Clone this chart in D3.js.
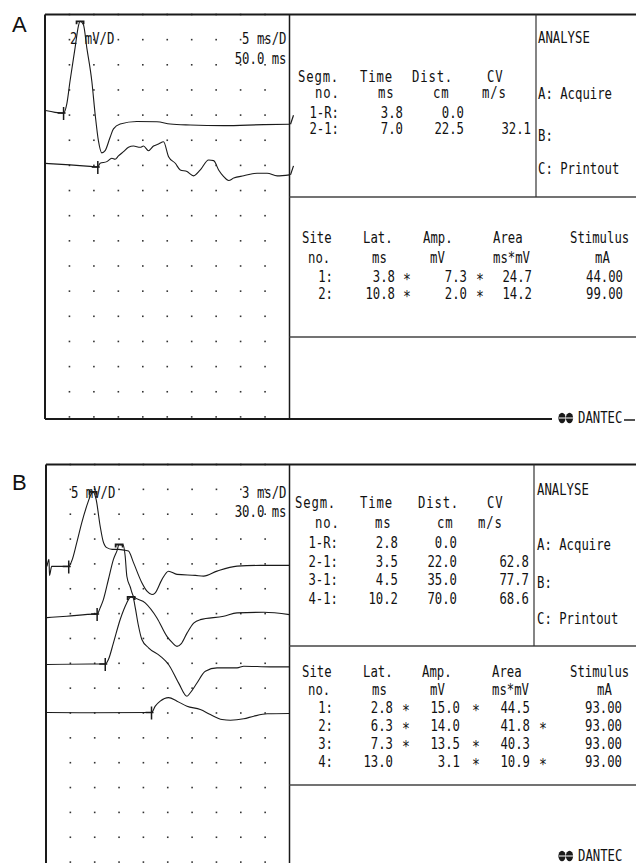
<!DOCTYPE html>
<html>
<head>
<meta charset="utf-8">
<script src="https://cdnjs.cloudflare.com/ajax/libs/d3/7.8.5/d3.min.js"></script>
<style>
  body { margin: 0; background: #fff; }
  svg text { font-family: "DejaVu Sans Mono", monospace; font-size: 15px; fill: #111; }
  svg text.letter { font-family: "Liberation Sans", Arial, sans-serif; font-size: 22px; }
  svg text.star { font-size: 16px; }
</style>
</head>
<body>
<svg width="636" height="863"></svg>
<script>
// ---- traces: [time ms, amplitude mV] ----
const traceA1 = [[0.1,0.2],[2.05,0.06],[3.8,0],[4.45,0.71],[5.12,2.55],[6.15,5.19],[6.82,6.9],[7.17,7.3],
  [7.85,7.04],[8.55,5.19],[9.57,2.55],[10.25,-0.08],[10.92,-2.19],[11.62,-3.16],[12.3,-2.98],[13.32,-1.92],
  [14.0,-1.26],[15.37,-0.87],[18.79,-0.67],[22.89,-0.69],[25.61,-0.87],[29.71,-0.95],[36.54,-1.0],[44.73,-0.92],[50,-0.89]];
const traceA2 = [[0.1,0.28],[5.12,0.16],[9.22,0.04],[10.8,0],[11.27,0.29],[12.64,0.42],[13.67,0.69],[14.34,0.61],
  [15.02,0.87],[16.04,1.21],[17.07,1.56],[18.09,1.66],[19.47,1.56],[20.14,1.66],[21.17,1.29],[22.19,1.66],
  [23.22,1.82],[24.24,2.0],[25.27,0.81],[26.64,0.29],[27.66,-0.24],[29.04,-0.37],[30.39,-0.71],[31.76,-0.24],
  [33.46,0.55],[34.49,0.5],[35.51,-0.24],[36.54,-0.77],[37.56,-1.08],[38.59,-0.89],[40.64,-0.71],[43.38,-0.5],
  [45.43,-0.5],[47.48,-0.71],[50,-0.63]];
const traceB1 = [[0.12,0],[0.37,1.41],[0.43,-1.81],[0.7,0],[2.8,0],[3.17,1.07],[3.79,4.78],[4.41,8.81],[5.02,12.16],
  [5.56,14.52],[5.8,15.0],[6.17,13.51],[6.67,8.13],[7.04,5.04],[7.49,3.77],[8.15,3.43],[8.93,3.43],[9.75,3.23],
  [10.16,3.08],[10.78,0.75],[11.81,-3.28],[12.47,-5.04],[13.05,-5.65],[13.46,-5.31],[14.28,-2.66],[15.1,-0.97],
  [16.14,-1.61],[18.4,-1.81],[19.42,-1.95],[21.07,-0.95],[23.54,0.06],[26.42,0.2],[30,0.2]];
const traceB2 = [[0.12,-0.71],[2.56,-0.44],[6.05,0],[6.3,0],[6.67,1.25],[7.07,2.92],[7.69,6.96],[8.31,11.01],
  [8.73,12.68],[9.01,14.0],[9.51,13.9],[9.75,11.75],[9.96,7.62],[10.37,5.5],[10.78,3.59],[12.22,2.26],[13.67,-0.77],
  [14.9,-4.48],[15.56,-5.75],[16.14,-6.5],[16.67,-5.95],[17.37,-3.83],[18.19,-1.81],[19.01,-1.11],[21.89,-0.44],
  [23.54,0.24],[26.83,0.36],[30,-0.1]];
const traceB3 = [[0.12,-0.1],[5.43,0],[7.3,0],[7.69,0.91],[8.31,4.27],[9.14,8.97],[9.96,12.35],[10.25,13.21],
  [10.49,13.5],[10.74,13.3],[10.99,11.39],[11.36,7.96],[11.81,4.94],[12.63,3.27],[14.07,1.61],[15.1,-0.1],
  [16.33,-3.79],[17.37,-6.49],[17.78,-5.78],[18.6,-3.81],[19.63,-1.45],[21.07,-0.77],[23.54,-0.77],[24.36,-0.44],
  [27.65,-0.56],[30,-0.56]];
const traceB4 = [[0.12,0],[5.43,-0.06],[13.0,0],[13.46,1.27],[14.07,2.28],[15.1,3.0],[16.14,2.28],[17.37,1.27],
  [19.01,0.6],[20.25,-0.4],[21.69,-1.41],[22.72,-1.55],[24.36,-1.27],[25.6,-0.74],[27.25,-0.26],[30,-0.2]];

// ---- table texts ----
const segHead1 = ['Segm.', 'Time', 'Dist.', 'CV'];
const segHead2 = ['no.', 'ms', 'cm', 'm/s'];
const siteHead1 = ['Site', 'Lat.', 'Amp.', 'Area', 'Stimulus'];
const siteHead2 = ['no.', 'ms', 'mV', 'ms*mV', 'mA'];
const menuItems = ['ANALYSE', 'A: Acquire', 'B:', 'C: Printout'];

// panel A values
const segA = ['1-R:', '2-1:'];
const segTimeA = [3.8, 7.0];
const segDistA = [0.0, 22.5];
const segCvA = [null, 32.1];
const siteA = ['1:', '2:'];
const latA = [3.8, 10.8];
const latFlagA = [1, 1];
const ampA = [7.3, 2.0];
const ampFlagA = [1, 1];
const areaA = [24.7, 14.2];
const areaFlagA = [0, 0];
const stimA = [44, 99];

// panel B values
const segB = ['1-R:', '2-1:', '3-1:', '4-1:'];
const segTimeB = [2.8, 3.5, 4.5, 10.2];
const segDistB = [0.0, 22.0, 35.0, 70.0];
const segCvB = [null, 62.8, 77.7, 68.6];
const siteB = ['1:', '2:', '3:', '4:'];
const latB = [2.8, 6.3, 7.3, 13.0];
const latFlagB = [1, 1, 1, 0];
const ampB = [15.0, 14.0, 13.5, 3.1];
const ampFlagB = [1, 0, 1, 1];
const areaB = [44.5, 41.8, 40.3, 10.9];
const areaFlagB = [0, 1, 0, 1];
const stimB = [93, 93, 93, 93];

const fmt1 = d3.format('.1f');
const fmt2 = d3.format('.2f');
const svg = d3.select('svg');
const ink = '#1a1a1a';

// condensed printer-like text
function txt(g, x, y, s, anchor) {
  return g.append('text')
    .attr('text-anchor', anchor || 'start')
    .attr('transform', `translate(${x},${y}) scale(0.82,1)`)
    .text(s);
}

function rule(g, x1, y1, x2, y2, w, c) {
  g.append('line')
    .attr('x1', x1).attr('y1', y1).attr('x2', x2).attr('y2', y2)
    .attr('stroke', c || ink).attr('stroke-width', w || 1);
}

function logo(g, x, y) {
  g.append('ellipse').attr('cx', x + 4).attr('cy', y - 5).attr('rx', 3.6).attr('ry', 5.2).attr('fill', ink);
  g.append('ellipse').attr('cx', x + 11.5).attr('cy', y - 5).attr('rx', 3.6).attr('ry', 5.2).attr('fill', ink);
  rule(g, x + 1, y - 5, x + 15, y - 5, 1, '#fff');
  txt(g, x + 20, y, 'DANTEC');
}

function drawPanel(p) {
  const g = svg.append('g');
  const gx = d3.scaleLinear().domain([0, 10]).range([p.left, p.waveRight]);
  const gy = d3.scaleLinear().domain([0, 16]).range([p.top, p.top + 16 * p.rowH]);
  const x = d3.scaleLinear().domain([0, p.msPerDiv * 10]).range([p.left, p.waveRight]);

  // panel letter
  g.append('text').attr('class', 'letter').attr('x', 12).attr('y', p.top + p.letterDy).text(p.letter);

  // dot grid
  g.selectAll('rect.dot')
    .data(d3.cross(d3.range(1, 10), d3.range(0, 17)))
    .join('rect').attr('class', 'dot')
    .attr('x', d => gx(d[0]) - 0.8).attr('y', d => gy(d[1]) - 0.8)
    .attr('width', 1.6).attr('height', 1.6).attr('fill', '#333');

  // frame
  rule(g, p.left, p.top, 636, p.top, 2);
  rule(g, p.left, p.top, p.left, p.bottom, 2);
  rule(g, p.waveRight, p.top, p.waveRight, p.bottom, 1.5);
  rule(g, p.waveRight, p.line1, 636, p.line1, 1.5, '#444');
  rule(g, p.waveRight, p.line2, 636, p.line2, 1.5, '#444');
  rule(g, p.menuLineX, p.top, p.menuLineX, p.line1, 1.2, '#333');
  if (p.bottomY) {
    rule(g, p.left, p.bottomY, 552, p.bottomY, 2);
    rule(g, 624, p.bottomY + 1, 635, p.bottomY + 1, 1.5);
  }
  logo(g, 558, p.logoY);

  // sweep captions
  txt(g, p.left + 25, p.top + p.capY[0], `${p.mvPerDiv} mV/D`);
  txt(g, p.waveRight - 3, p.top + p.capY[0], `${p.msPerDiv} ms/D`, 'end');
  txt(g, p.waveRight - 3, p.top + p.capY[1], `${fmt1(p.msPerDiv * 10)} ms`, 'end');

  // traces
  p.traces.forEach((t, i) => {
    const base = gy(t.base);
    const y = d3.scaleLinear().domain([0, p.mvPerDiv]).range([base, base - p.rowH]);
    const line = d3.line().x(d => x(d[0])).y(d => y(d[1])).curve(d3.curveMonotoneX);
    g.append('path').datum(t.data).attr('d', line)
      .attr('fill', 'none').attr('stroke', ink).attr('stroke-width', 1.1).attr('stroke-linejoin', 'round');
    // onset cursor at latency
    const ox = x(p.lat[i]);
    g.append('path').attr('d', `M${ox},${base - 6}V${base + 7}M${ox - 6},${base}H${ox + 2}`)
      .attr('stroke', ink).attr('stroke-width', 1.5).attr('fill', 'none');
    // peak cursor
    if (t.peak) {
      const pk = t.data[d3.maxIndex(t.data, d => d[1])];
      const px = x(pk[0]), py = y(pk[1]);
      g.append('path').attr('d', `M${px - 3.5},${py + 3}V${py}H${px + 3.5}V${py + 3}`)
        .attr('stroke', ink).attr('stroke-width', 1.8).attr('fill', 'none');
    }
    // end tick
    if (p.endTick) {
      const last = t.data[t.data.length - 1];
      const ey = y(last[1]);
      rule(g, p.waveRight + 1, ey, p.waveRight + 4, ey - 9, 1.2);
    }
  });

  // segment table
  segHead1.forEach((s, j) => txt(g, p.segHeadX1[j], p.segHeadY[0], s).attr('letter-spacing', 1));
  segHead2.forEach((s, j) => txt(g, p.segHeadX2[j], p.segHeadY[1], s).attr('letter-spacing', 1));
  p.seg.forEach((s, i) => {
    const yy = p.segRowY0 + i * p.segRowDy;
    txt(g, p.segColR[0], yy, s, 'end');
    txt(g, p.segColR[1], yy, fmt1(p.segTime[i]), 'end');
    txt(g, p.segColR[2], yy, fmt1(p.segDist[i]), 'end');
    if (p.segCv[i] != null) txt(g, p.segColR[3], yy, fmt1(p.segCv[i]), 'end');
  });

  // menu
  menuItems.forEach((s, j) => txt(g, p.menuX, p.menuY[j], s));

  // site table
  siteHead1.forEach((s, j) => txt(g, p.siteHeadX1[j], p.siteHeadY[0], s));
  siteHead2.forEach((s, j) => txt(g, p.siteHeadX2[j], p.siteHeadY[1], s));
  p.site.forEach((s, i) => {
    const yy = p.siteRowY0 + i * p.siteRowDy;
    txt(g, p.siteColR[0], yy, s, 'end');
    txt(g, p.siteColR[1], yy, fmt1(p.lat[i]), 'end');
    txt(g, p.siteColR[2], yy, fmt1(p.amp[i]), 'end');
    txt(g, p.siteColR[3], yy, fmt1(p.area[i]), 'end');
    txt(g, p.siteColR[4], yy, fmt2(p.stim[i]), 'end');
    [p.latFlag[i], p.ampFlag[i], p.areaFlag[i]].forEach((f, k) => {
      if (f) txt(g, p.starX[k], yy + 3, '*', 'middle').attr('class', 'star');
    });
  });
}

// panel A
drawPanel({
  letter: 'A', letterDy: 17,
  left: 45, top: 14.5, rowH: 25.15, waveRight: 289.5, bottom: 419,
  bottomY: 419, logoY: 423, line1: 197, line2: 337, menuLineX: 536,
  msPerDiv: 5, mvPerDiv: 2, capY: [29, 49], endTick: true,
  traces: [{ data: traceA1, base: 3.92, peak: true }, { data: traceA2, base: 6.06, peak: false }],
  seg: segA, segTime: segTimeA, segDist: segDistA, segCv: segCvA,
  segHeadX1: [298, 360, 412, 487], segHeadX2: [315, 378, 433, 482], segHeadY: [81.5, 97.5],
  segRowY0: 118, segRowDy: 16, segColR: [339, 403, 464, 531],
  menuX: 538, menuY: [43, 99, 141, 174],
  site: siteA, lat: latA, latFlag: latFlagA, amp: ampA, ampFlag: ampFlagA,
  area: areaA, areaFlag: areaFlagA, stim: stimA,
  siteHeadX1: [302, 363, 423, 493, 570], siteHeadX2: [308, 372, 430, 493, 595], siteHeadY: [243, 263],
  siteRowY0: 282, siteRowDy: 17, siteColR: [333, 395, 467, 532, 623], starX: [407, 480, 545]
});

// panel B
drawPanel({
  letter: 'B', letterDy: 25,
  left: 46, top: 464.5, rowH: 24.85, waveRight: 289.5, bottom: 863,
  bottomY: null, logoY: 861, line1: 646, line2: 785, menuLineX: 534,
  msPerDiv: 3, mvPerDiv: 5, capY: [33, 52], endTick: false,
  traces: [{ data: traceB1, base: 4.1, peak: true }, { data: traceB2, base: 6.02, peak: true },
           { data: traceB3, base: 8.03, peak: true }, { data: traceB4, base: 9.98, peak: false }],
  seg: segB, segTime: segTimeB, segDist: segDistB, segCv: segCvB,
  segHeadX1: [295, 360, 418, 487], segHeadX2: [315, 375, 437, 478], segHeadY: [508, 528],
  segRowY0: 548, segRowDy: 18.5, segColR: [338, 398, 457, 529],
  menuX: 537, menuY: [495, 550, 588, 624],
  site: siteB, lat: latB, latFlag: latFlagB, amp: ampB, ampFlag: ampFlagB,
  area: areaB, areaFlag: areaFlagB, stim: stimB,
  siteHeadX1: [302, 363, 422, 492, 570], siteHeadX2: [308, 372, 430, 492, 597], siteHeadY: [677, 695],
  siteRowY0: 712.5, siteRowDy: 18, siteColR: [333, 393, 460, 530, 622], starX: [406, 476, 543]
});
</script>
</body>
</html>
